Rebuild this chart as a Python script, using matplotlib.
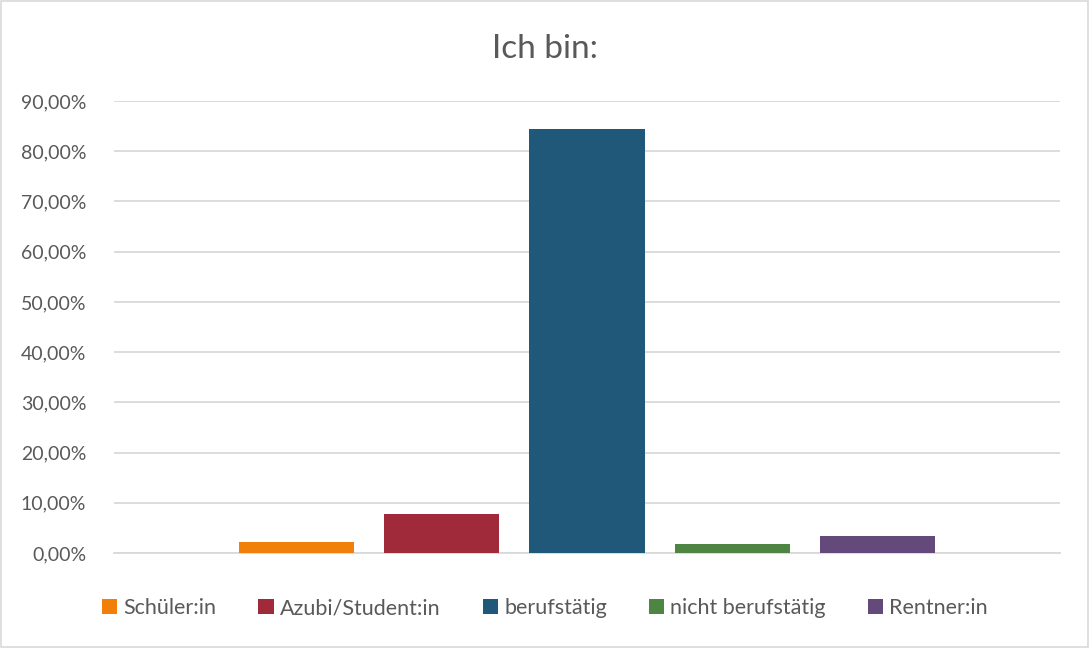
import matplotlib
matplotlib.use("Agg")
import matplotlib.pyplot as plt
from matplotlib.patches import Patch, Rectangle
from matplotlib.ticker import FuncFormatter

plt.rcParams['font.family'] = ['Lato', 'DejaVu Sans']

categories = ['Schüler:in', 'Azubi/Student:in', 'berufstätig', 'nicht berufstätig', 'Rentner:in']
values = [0.022, 0.078, 0.844, 0.018, 0.034]
colors = ['#F0800A', '#A02A39', '#1F5878', '#4E8542', '#634A7A']
yticks = [0, 0.1, 0.2, 0.3, 0.4, 0.5, 0.6, 0.7, 0.8, 0.9]

text_col = '#595959'
grid_col = '#D9D9D9'

fig = plt.figure(figsize=(10.9, 6.48), dpi=100)
ax = fig.add_axes([0.1046, 0.1466, 0.8679, 0.6975])

x = list(range(len(categories)))
ax.bar(x, values, width=0.793, color=colors, zorder=3)

ax.set_xlim(-1.256, 5.256)
ax.set_ylim(0, 0.9)
ax.set_yticks(yticks)
ax.yaxis.set_major_formatter(FuncFormatter(lambda v, p: f"{v*100:.2f}%".replace('.', ',')))
ax.set_xticks([])
ax.grid(axis='y', color=grid_col, linewidth=1.3, zorder=0)
for s in ['top', 'right', 'left']:
    ax.spines[s].set_visible(False)
ax.spines['bottom'].set_color(grid_col)
ax.spines['bottom'].set_linewidth(1.3)
ax.tick_params(axis='y', length=0, labelsize=14, labelcolor=text_col, pad=20)

fig.text(0.5, 0.925, 'Ich bin:', ha='center', va='center', fontsize=24, color=text_col)

handles = [Patch(facecolor=c, label=l) for c, l in zip(colors, categories)]
fig.legend(handles=handles, loc='center', bbox_to_anchor=(0.5, 0.061), ncol=5,
           frameon=False, fontsize=15.5, labelcolor=text_col,
           handlelength=0.7, handleheight=0.7, handletextpad=0.3, columnspacing=1.95)

fig.patches.append(Rectangle((0.001, 0.002), 0.997, 0.996, transform=fig.transFigure,
                             fill=False, edgecolor='#D9D9D9', linewidth=1.2))

fig.savefig('out.png', dpi=100)
